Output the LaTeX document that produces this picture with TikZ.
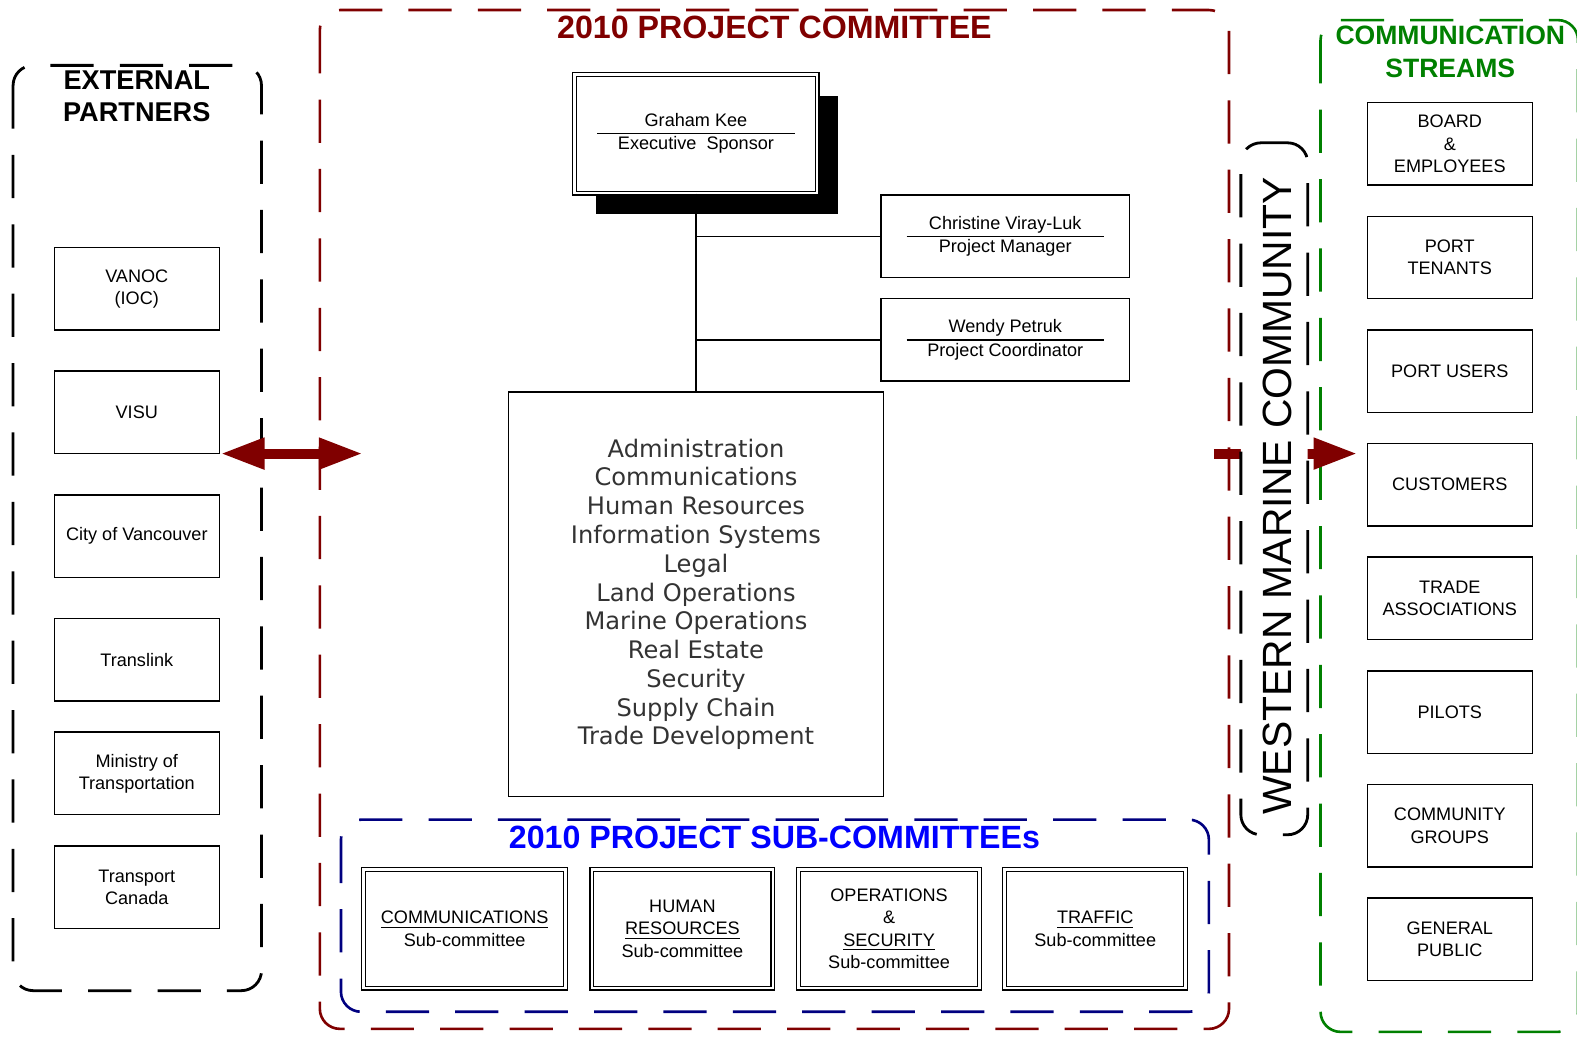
\documentclass[tikz,border=0pt]{standalone}
\usepackage{fontspec}
\setmainfont{Liberation Sans}
\newfontfamily\listfont{DejaVu Sans}
\usepackage{array}
\usetikzlibrary{arrows.meta,shadows,positioning}
\definecolor{pcred}{HTML}{800000}
\definecolor{pcnavy}{HTML}{000080}
\definecolor{pcblue}{HTML}{0000FF}
\definecolor{pcgreen}{HTML}{008000}
\definecolor{pcgray}{HTML}{333333}
\newcommand{\nameline}[2]{\setlength{\arrayrulewidth}{0.7pt}\begin{tabular}{@{}>{\centering\arraybackslash}p{98pt}@{}}#1\\\hline #2\end{tabular}}

\begin{document}
\begin{tikzpicture}[x=0.5pt, y=-0.5pt, >={Triangle[length=22pt,width=14.5pt]},
	pbox/.style={draw, line width=0.7pt, minimum width=82pt, minimum height=41pt, inner sep=0pt, align=center, font=\fontsize{9}{11}\selectfont},
	dbox/.style={draw, double, line width=0.6pt, double distance=1.3pt, fill=white, minimum height=59pt, inner sep=0pt, align=center, font=\fontsize{9}{11}\selectfont},
	group/.style={line width=1.3pt, rounded corners=10pt, dash pattern=on 21.5pt off 13pt},
	bigarrow/.style={draw=pcred, line width=5pt}]

	\useasboundingbox (0,0) rectangle (1568,1031);

	\draw[group, line width=1.4pt] (13,65) rectangle (260,985);
	\draw[group, pcred] (318,10) rectangle (1222,1023);
	\draw[group, pcnavy] (339,815) rectangle (1202,1006);
	\draw[group, pcgreen] (1313,20) rectangle (1569,1026);

	\node[font=\fontsize{13.5}{16}\selectfont\bfseries, align=center] (EPT) at (136,96) {EXTERNAL\\PARTNERS};
	\node[font=\fontsize{16}{19}\selectfont\bfseries, text=pcred] (PCT) at (770,27) {2010 PROJECT COMMITTEE};
	\node[font=\fontsize{16}{19}\selectfont\bfseries, text=pcblue] (PST) at (770,833) {2010 PROJECT SUB-COMMITTEEs};
	\node[font=\fontsize{13.2}{16.5}\selectfont\bfseries, text=pcgreen, align=center] (CST) at (1442,51.5) {COMMUNICATION\\STREAMS};

	\node[pbox] (P1) at (136,287) {VANOC\\(IOC)};
	\node[pbox, below of=P1, node distance=61.5pt] (P2) {VISU};
	\node[pbox, below of=P2, node distance=61.5pt] (P3) {City of Vancouver};
	\node[pbox, below of=P3, node distance=61.5pt] (P4) {Translink};
	\node[pbox, below of=P4, node distance=56.5pt] (P5) {Ministry of\\Transportation};
	\node[pbox, below of=P5, node distance=56.5pt] (P6) {Transport\\Canada};

	\node[pbox] (C1) at (1441.5,143) {BOARD\\\&\\EMPLOYEES};
	\node[pbox, below of=C1, node distance=56.5pt] (C2) {PORT\\TENANTS};
	\node[pbox, below of=C2, node distance=56.5pt] (C3) {PORT USERS};
	\node[pbox, below of=C3, node distance=56.5pt] (C4) {CUSTOMERS};
	\node[pbox, below of=C4, node distance=56.5pt] (C5) {TRADE\\ASSOCIATIONS};
	\node[pbox, below of=C5, node distance=56.5pt] (C6) {PILOTS};
	\node[pbox, below of=C6, node distance=56.5pt] (C7) {COMMUNITY\\GROUPS};
	\node[pbox, below of=C7, node distance=56.5pt] (C8) {GENERAL\\PUBLIC};

	\node[dbox, minimum width=120.5pt, general shadow={fill=black, shadow xshift=10.5pt, shadow yshift=-10.5pt}] (GK) at (692,133) {\nameline{Graham Kee}{Executive\ \ Sponsor}};
	\node[pbox, minimum width=123.5pt] (PM) at (999.5,235) {\nameline{Christine Viray-Luk}{Project Manager}};
	\node[pbox, minimum width=123.5pt, below of=PM, node distance=51.5pt] (PC) {\nameline{Wendy Petruk}{Project Coordinator}};

	\node[pbox, line width=0.8pt, minimum width=186.5pt, minimum height=201pt, text=pcgray, font=\listfont\fontsize{12}{14.3}\selectfont] (ADM) at (692,591) {Administration\\Communications\\Human Resources\\Information Systems\\Legal\\Land Operations\\Marine Operations\\Real Estate\\Security\\Supply Chain\\Trade Development};

	\draw[line width=0.7pt] (GK.south) -- (ADM.north);
	\draw[line width=0.7pt] (PM.west) -- (PM.west -| GK.south);
	\draw[line width=0.7pt] (PC.west) -- (PC.west -| GK.south);

	\node[dbox, minimum width=100.5pt] (S1) at (462,923.5) {\underline{COMMUNICATIONS}\\Sub-committee};
	\node[dbox, minimum width=90pt, right of=S1, node distance=108.25pt] (S2) {HUMAN\\\underline{RESOURCES}\\Sub-committee};
	\node[dbox, minimum width=90pt, right of=S2, node distance=102.75pt] (S3) {OPERATIONS\\\&\\\underline{SECURITY}\\Sub-committee};
	\node[dbox, minimum width=90pt, right of=S3, node distance=102.5pt] (S4) {\underline{TRAFFIC}\\Sub-committee};

	\coordinate (AL) at (219,451);
	\coordinate (AR) at (361,451);
	\draw[bigarrow, <->] (AL) -- (AR);
	\coordinate (BL) at (1207,451);
	\coordinate (BR) at (1350,451);
	\draw[bigarrow, ->] (BL) -- (BR);

	\node[group, draw, line width=1.4pt, fill=white, minimum width=33.25pt, minimum height=344pt, inner sep=0pt] (WMC) at (1267,486) {};
	\node[rotate=90, font=\fontsize{20.3}{24}\selectfont] (WMCT) at (1270,493) {WESTERN MARINE COMMUNITY};
\end{tikzpicture}
\end{document}
